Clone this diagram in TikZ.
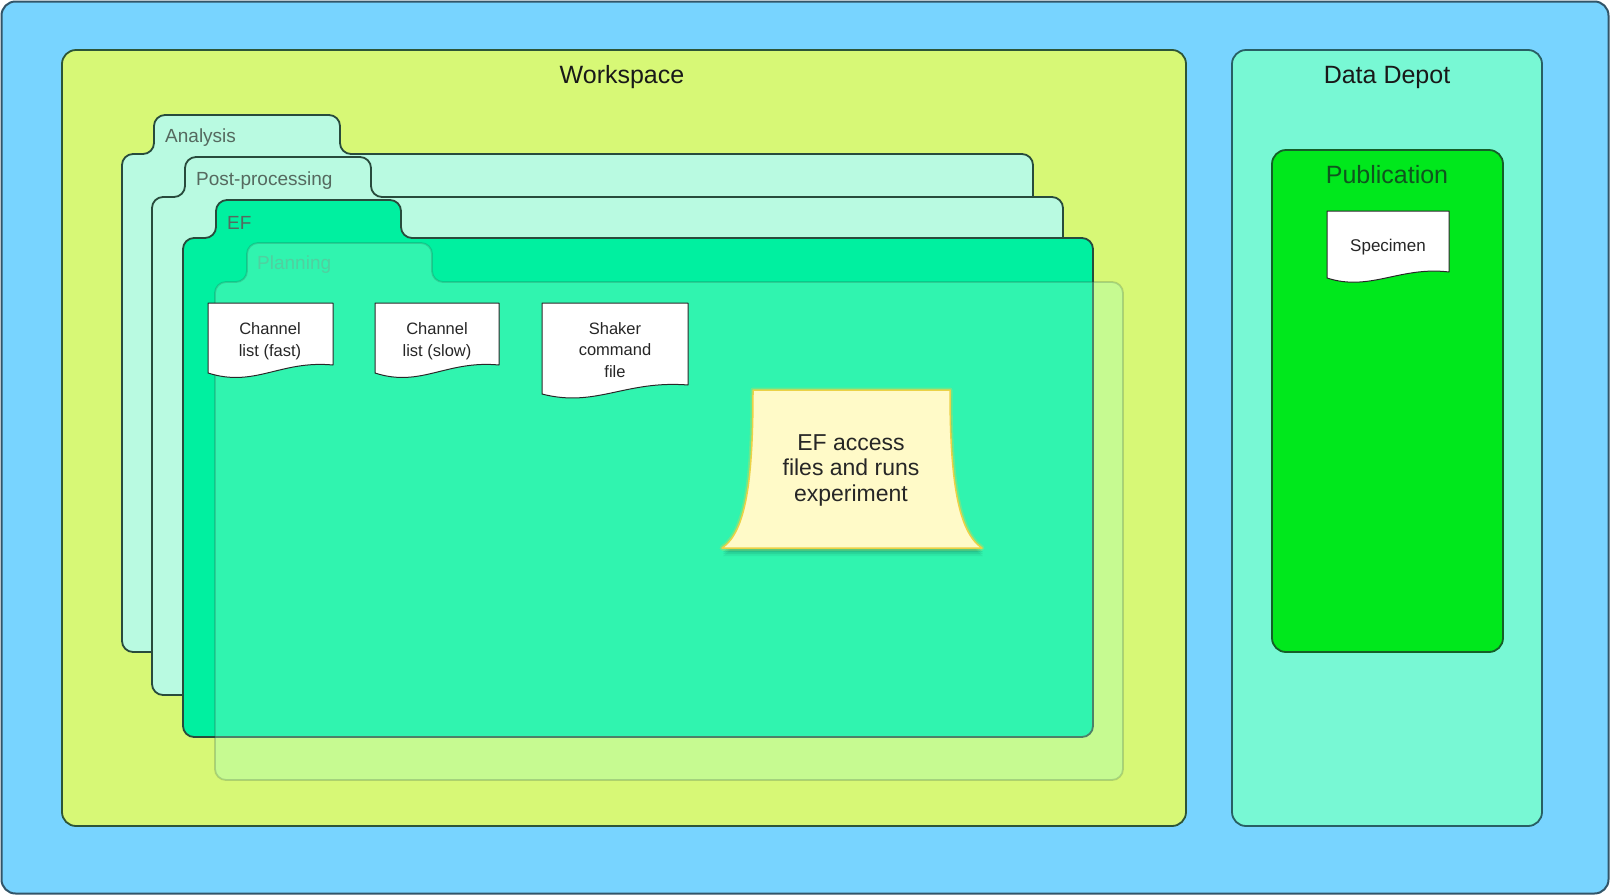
\documentclass[tikz,border=0pt]{standalone}
\usepackage{fontspec}
\setmainfont{Liberation Sans}
\definecolor{outerblue}{RGB}{120,212,255}
\definecolor{outerborder}{RGB}{50,85,105}
\definecolor{wsfill}{RGB}{215,248,118}
\definecolor{wsborder}{RGB}{45,85,55}
\definecolor{depotfill}{RGB}{120,248,212}
\definecolor{depotborder}{RGB}{40,95,100}
\definecolor{pubfill}{RGB}{0,232,28}
\definecolor{pubborder}{RGB}{20,95,40}
\definecolor{pubtext}{RGB}{15,85,30}
\definecolor{folderlight}{RGB}{185,250,225}
\definecolor{folderborder}{RGB}{40,75,60}
\definecolor{effill}{RGB}{0,240,160}
\definecolor{planfill}{RGB}{160,255,210}
\definecolor{plantext}{RGB}{80,208,160}
\definecolor{labelgray}{RGB}{85,105,95}
\definecolor{notefill}{RGB}{255,250,200}
\definecolor{noteborder}{RGB}{235,210,70}
\definecolor{docborder}{RGB}{40,40,40}
\begin{document}
\begin{tikzpicture}[x=1pt,y=-1pt,
  box/.style={line width=1.8pt, rounded corners=14pt},
  folder/.style={draw=folderborder, line width=1.8pt, rounded corners=11pt, line join=round},
  docshape/.style={draw=docborder, fill=white, line width=1pt, line join=round},
  doctext/.style={align=center, font=\fontsize{16.5}{21.5}\selectfont, text=black!85, inner sep=0pt},
  tablabel/.style={anchor=west, font=\fontsize{19}{22}\selectfont, inner sep=0pt},
  titletext/.style={font=\fontsize{25}{30}\selectfont, inner sep=0pt, text=black!90},
  notetext/.style={align=center, font=\fontsize{23}{25.5}\selectfont, inner sep=0pt, text=black!85}
]
\useasboundingbox (0,0) rectangle (1610,895);
% outer background
\draw[fill=outerblue, draw=outerborder, line width=2pt, rounded corners=14pt] (1.5,1.5) rectangle (1608.5,893.5);
% workspace and data depot
\draw[box, fill=wsfill, draw=wsborder] (62,50) rectangle (1186,826);
\node[titletext] (ws) at (622,77) {Workspace};
\draw[box, fill=depotfill, draw=depotborder] (1232,50) rectangle (1542,826);
\node[titletext] (depot) at (1387,77) {Data Depot};
\draw[box, fill=pubfill, draw=pubborder] (1272,150) rectangle (1503,652);
\node[titletext, text=pubtext] (pub) at (1387,175) {Publication};
% specimen document
\path[docshape] (1327,211) -- (1449,211) -- (1449,272)
  .. controls (1400,266) and (1370,292) .. (1327,278) -- cycle;
\node[doctext, font=\fontsize{17}{21}\selectfont] (spec) at (1388,247) {Specimen};
% folders
\path[folder, fill=folderlight] (600,652) -- (122,652) -- (122,154) -- (154,154) -- (154,115) -- (340,115) -- (340,154) -- (1033,154) -- (1033,652) -- cycle;
\node[tablabel, text=labelgray] (analysis) at (165,138) {Analysis};
\path[folder, fill=folderlight] (600,695) -- (152,695) -- (152,197) -- (185,197) -- (185,157) -- (371,157) -- (371,197) -- (1063,197) -- (1063,695) -- cycle;
\node[tablabel, text=labelgray] (post) at (196,181) {Post-processing};
\path[folder, fill=effill] (600,737) -- (183,737) -- (183,238) -- (216,238) -- (216,200) -- (401,200) -- (401,238) -- (1093,238) -- (1093,737) -- cycle;
\node[tablabel, text=labelgray] (ef) at (227,223) {EF};
\path[folder, fill=planfill, fill opacity=0.3, draw opacity=0.22] (600,780) -- (215,780) -- (215,282) -- (247,282) -- (247,243) -- (432,243) -- (432,282) -- (1123,282) -- (1123,780) -- cycle;
\node[tablabel, text=plantext] (planning) at (257,265) {Planning};
% documents
\path[docshape] (208,303) -- (333,303) -- (333,365)
  .. controls (280,360) and (255,388) .. (208,373) -- cycle;
\node[doctext] (fast) at (270,341) {Channel\\list (fast)};
\path[docshape] (375,303) -- (499,303) -- (499,365)
  .. controls (446,360) and (421,388) .. (375,373) -- cycle;
\node[doctext] (slow) at (437,341) {Channel\\list (slow)};
\path[docshape] (542,303) -- (688,303) -- (688,385)
  .. controls (625,380) and (596,408) .. (542,394) -- cycle;
\node[doctext] (shaker) at (615,350) {Shaker\\command\\file};
% sticky note
\foreach \s/\o in {8/0.05,6/0.07,4/0.09}{
  \fill[black, opacity=\o, shift={(1,\s)}] (753,390) -- (950,390) .. controls (950,480) and (958,532) .. (982,548) -- (722,548) .. controls (746,532) and (753,480) .. (753,390) -- cycle;
}
\draw[noteborder, line width=5pt, opacity=0.3, line join=round] (753,390) -- (950,390) .. controls (950,480) and (958,532) .. (982,548) -- (722,548) .. controls (746,532) and (753,480) .. (753,390) -- cycle;
\draw[fill=notefill, draw=noteborder, line width=1.5pt, line join=round] (753,390) -- (950,390) .. controls (950,480) and (958,532) .. (982,548) -- (722,548) .. controls (746,532) and (753,480) .. (753,390) -- cycle;
\node[notetext] (note) at (851,470) {EF access\\files and runs\\experiment};
\end{tikzpicture}
\end{document}
